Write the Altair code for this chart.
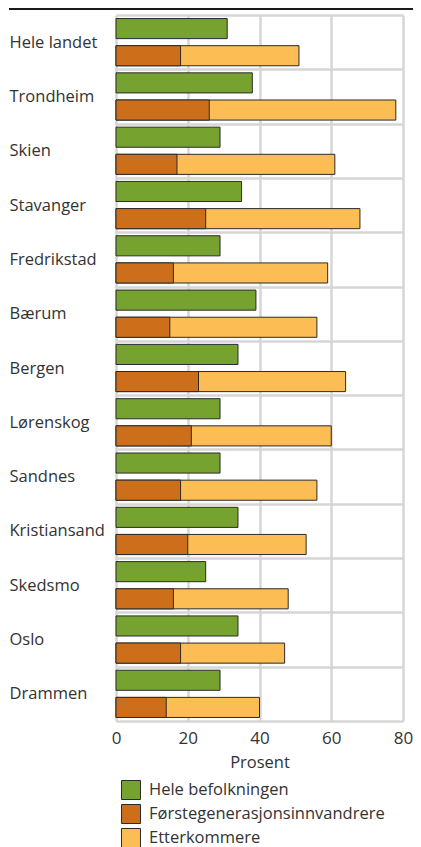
import altair as alt
import pandas as pd

cities = ["Hele landet", "Trondheim", "Skien", "Stavanger", "Fredrikstad", "Bærum",
          "Bergen", "Lørenskog", "Sandnes", "Kristiansand", "Skedsmo", "Oslo", "Drammen"]
hele = [31, 38, 29, 35, 29, 39, 34, 29, 29, 34, 25, 34, 29]
forste = [18, 26, 17, 25, 16, 15, 23, 21, 18, 20, 16, 18, 14]
etter = [51, 78, 61, 68, 59, 56, 64, 60, 56, 53, 48, 47, 40]

series = ["Hele befolkningen", "Førstegenerasjonsinnvandrere", "Etterkommere"]
colors = ["#76A22F", "#CD6F1A", "#FDBD55"]
x_ticks = [0, 20, 40, 60, 80]

rows = []
for c, v in zip(cities, hele):
    rows.append({"city": c, "row": "a", "series": series[0], "value": v})
for c, v in zip(cities, etter):
    rows.append({"city": c, "row": "b", "series": series[2], "value": v})
for c, v in zip(cities, forste):
    rows.append({"city": c, "row": "b", "series": series[1], "value": v})
df = pd.DataFrame(rows)

FONT = "Open Sans"
TXT = "#333333"
GRID = "#d6d6d6"

bars = alt.Chart(df).mark_bar(stroke="#2b2b2b", strokeWidth=1, opacity=1).encode(
    x=alt.X("value:Q", stack=None,
            scale=alt.Scale(domain=[0, 80], nice=False),
            axis=alt.Axis(values=x_ticks, title="Prosent", titleFontSize=16.5,
                          titleFontWeight="normal", titleColor=TXT, titleFont=FONT,
                          titlePadding=8, labelFlush=False,
                          labelFontSize=17, labelColor=TXT, labelFont=FONT,
                          labelPadding=9, ticks=False, domain=False,
                          grid=True, gridColor=GRID, gridWidth=2.5)),
    y=alt.Y("city:N", sort=cities,
            scale=alt.Scale(paddingInner=0, paddingOuter=0),
            axis=alt.Axis(title=None, labelAlign="left", labelPadding=107,
                          labelBaseline="middle", labelLimit=0,
                          labelFontSize=16.5, labelColor=TXT, labelFont=FONT,
                          ticks=False, domain=False, grid=True, tickBand="extent",
                          gridColor=GRID, gridWidth=2.5)),
    yOffset=alt.YOffset("row:N", sort=["a", "b"],
                        scale=alt.Scale(paddingInner=0.26, paddingOuter=0.13)),
    color=alt.Color("series:N", sort=series,
                    scale=alt.Scale(domain=series, range=colors),
                    legend=alt.Legend(orient="none", legendX=5, legendY=765,
                                      title=None, symbolType="square",
                                      symbolSize=361, symbolStrokeColor="#2b2b2b",
                                      symbolStrokeWidth=1, symbolOpacity=1,
                                      labelFontSize=16.5, labelColor=TXT,
                                      labelFont=FONT, labelOffset=8, labelLimit=0,
                                      rowPadding=0, direction="vertical",
                                      padding=0)),
)

top_rule = alt.Chart(df).mark_rule(color="#1a1a1a", strokeWidth=2).encode(
    x=alt.value(-107), x2=alt.value(297), y=alt.value(-6)
)

chart = alt.layer(bars, top_rule).properties(
    width=287, height=706,
    autosize=alt.AutoSizeParams(type="none"),
    padding={"left": 108, "right": 10, "top": 7, "bottom": 128},
).configure_view(stroke=None)

chart.save("out.html", embed_options={"renderer": "svg", "actions": False})
